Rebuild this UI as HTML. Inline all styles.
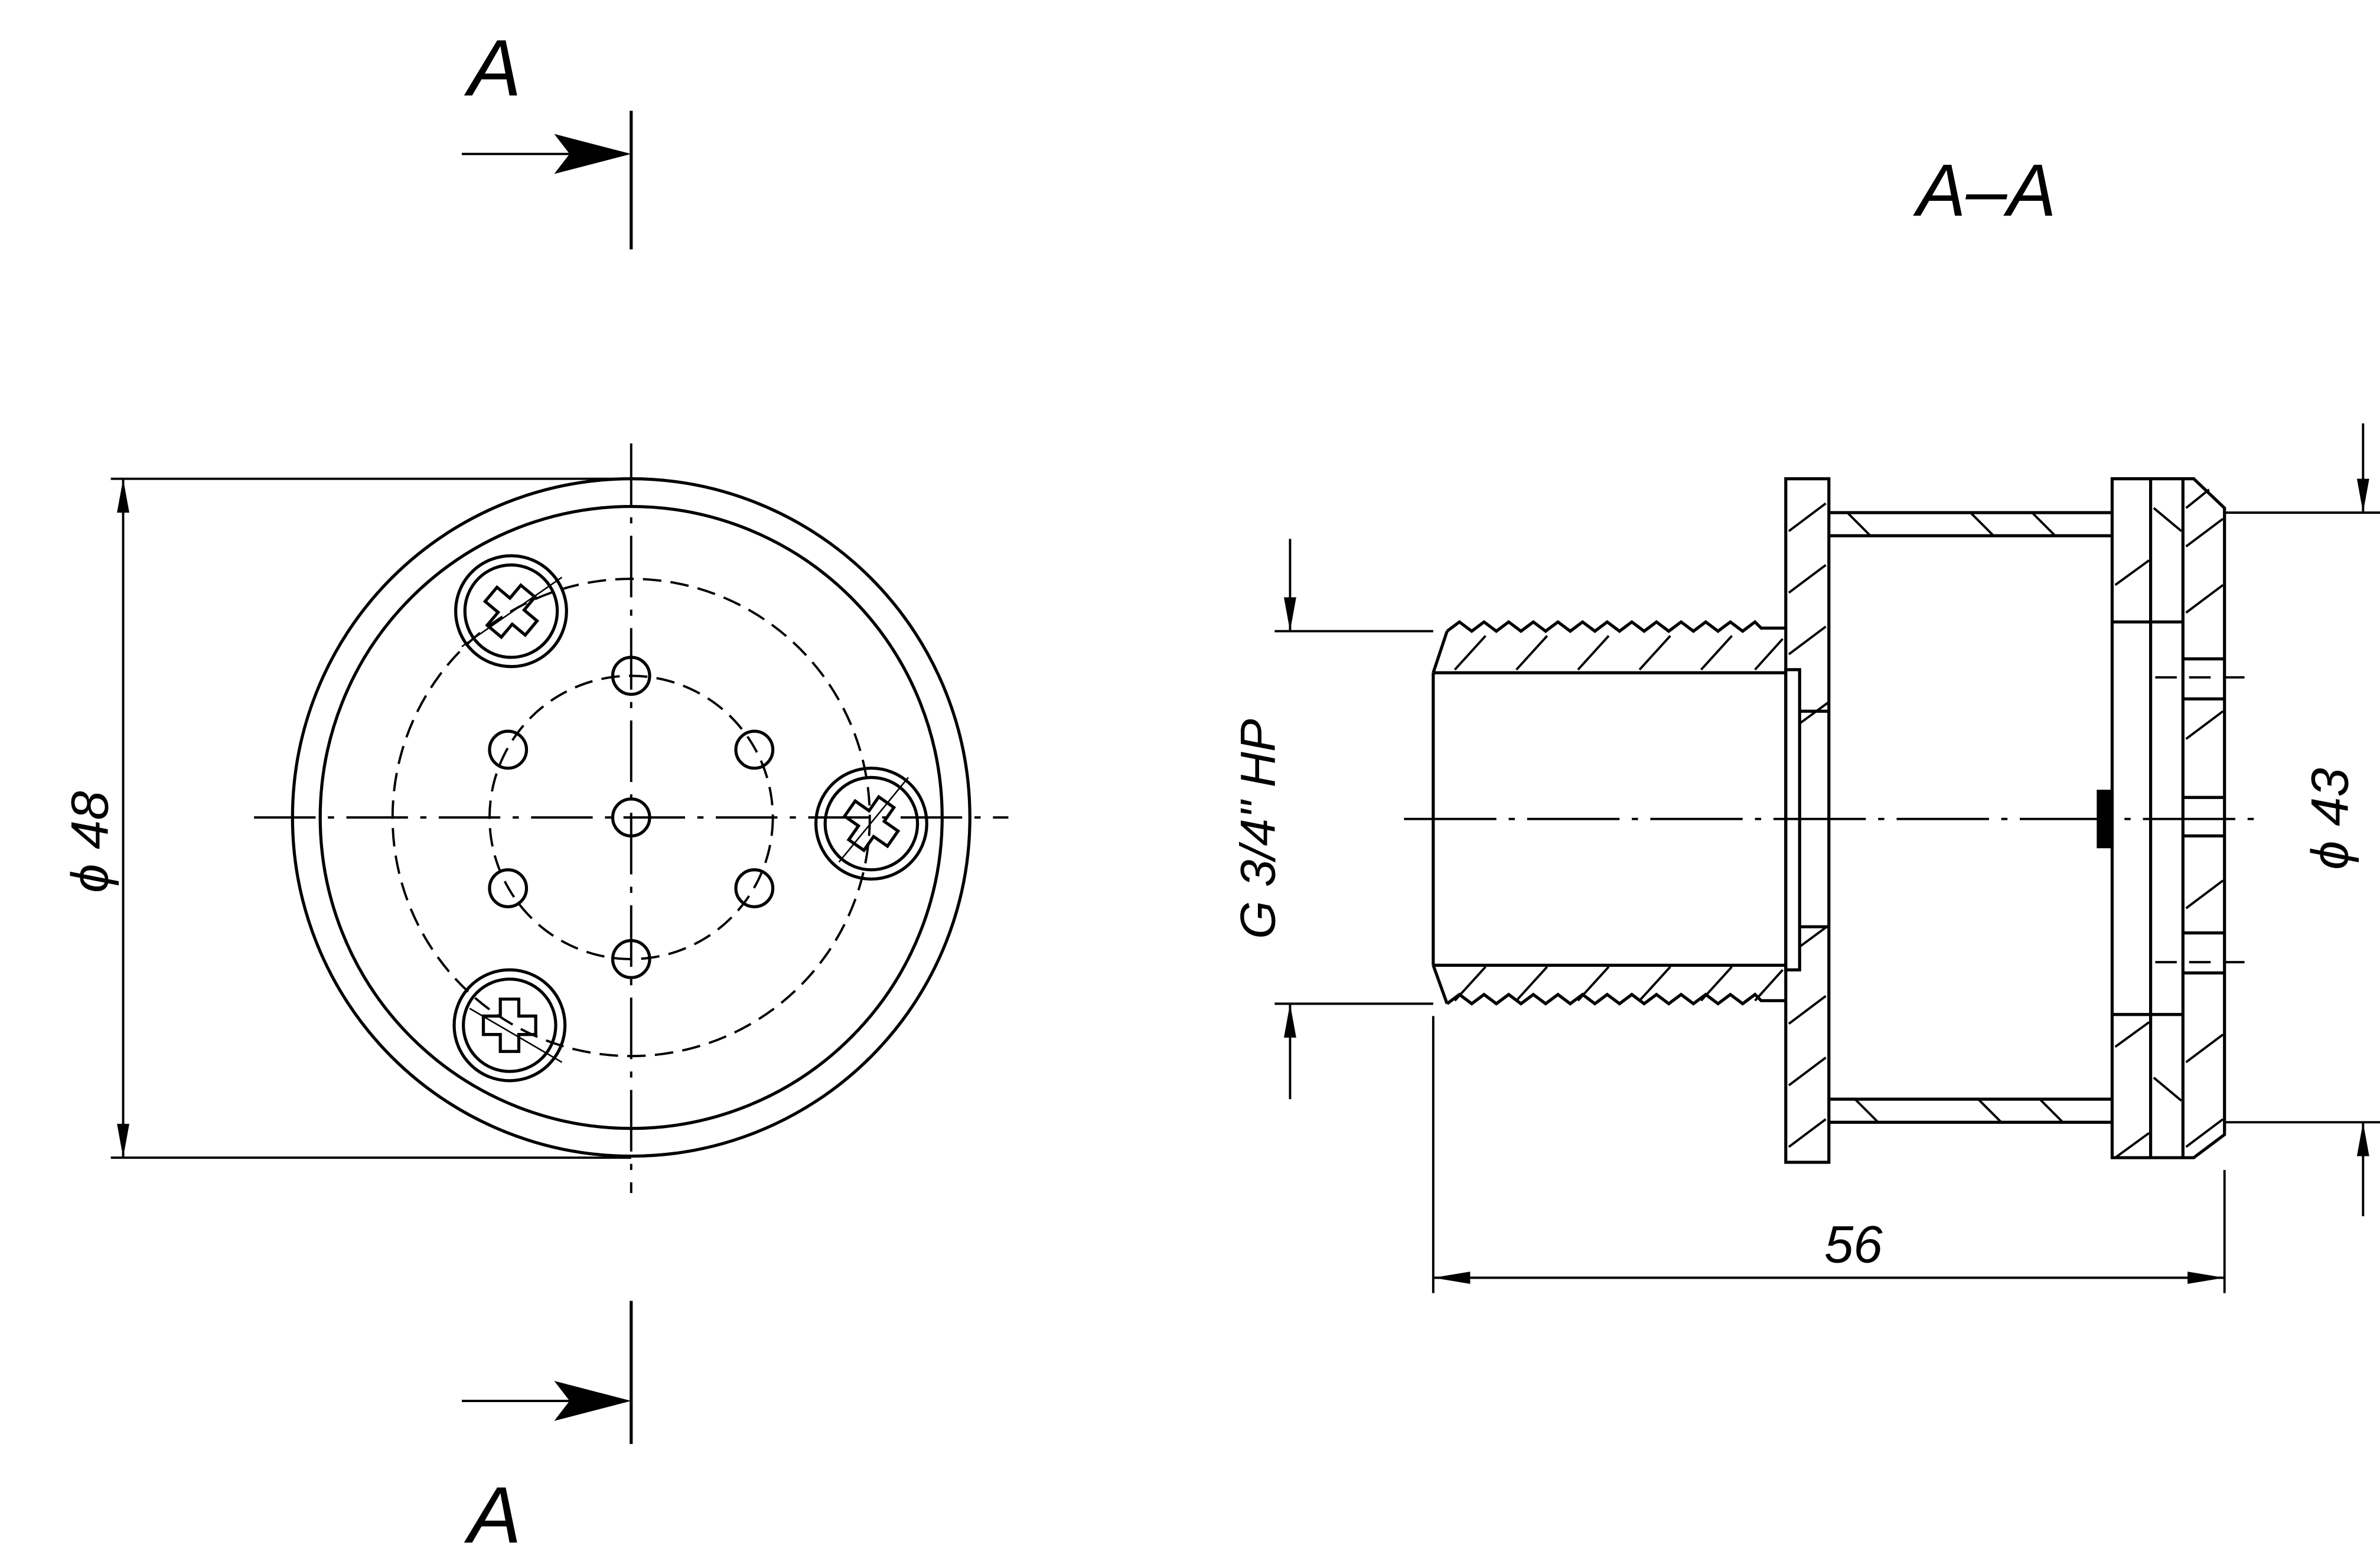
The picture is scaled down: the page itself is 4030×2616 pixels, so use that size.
<!DOCTYPE html>
<html><head><meta charset="utf-8"><style>
html,body{margin:0;padding:0;background:#fff}
svg{display:block}
text{font-family:"Liberation Sans",sans-serif;font-style:italic;fill:#000}
</style></head><body>
<svg width="4030" height="2616" viewBox="0 0 1546 1003.6" preserveAspectRatio="none" xmlns="http://www.w3.org/2000/svg">
<g fill="none" stroke="#000" stroke-width="1.5">
<!-- LEFT VIEW -->
<circle cx="410" cy="531" r="220" stroke-width="2"/>
<circle cx="410" cy="531" r="202" stroke-width="2"/>
<circle cx="410" cy="531" r="155" stroke-dasharray="12 6"/>
<circle cx="410" cy="531" r="92" stroke-dasharray="12 6"/>
<line x1="410" y1="288" x2="410" y2="775" stroke-dasharray="40 8 4 8"/>
<line x1="165" y1="531" x2="655" y2="531" stroke-dasharray="40 8 4 8"/>
<g stroke-width="2">
<circle cx="410" cy="439" r="12"/><circle cx="410" cy="623" r="12"/>
<circle cx="330" cy="487" r="12"/><circle cx="490" cy="487" r="12"/>
<circle cx="330" cy="577" r="12"/><circle cx="490" cy="577" r="12"/>
<circle cx="410" cy="531" r="12"/>
<circle cx="332" cy="397" r="36"/><circle cx="332" cy="397" r="30"/>
<circle cx="566" cy="535" r="36"/><circle cx="566" cy="535" r="30"/>
<circle cx="331" cy="666" r="36"/><circle cx="331" cy="666" r="30"/>
<path d="M326 380h12v11h11v12h-11v11h-12v-11h-11v-12h11z" transform="rotate(40 332 397)"/>
<path d="M560 518h12v11h11v12h-11v11h-12v-11h-11v-12h11z" transform="rotate(35 566 535)"/>
<path d="M325 649h12v11h11v12h-11v11h-12v-11h-11v-12h11z"/>
</g>
<path d="M300 420 L365 375 M545 560 L590 505 M305 655 L365 690" stroke-width="1"/>
<!-- dim 48 -->
<line x1="72" y1="311" x2="410" y2="311"/>
<line x1="72" y1="752" x2="410" y2="752"/>
<line x1="80" y1="311" x2="80" y2="752"/>
<!-- section marks -->
<line x1="410" y1="72" x2="410" y2="162" stroke-width="2"/>
<line x1="300" y1="100" x2="370" y2="100"/>
<line x1="410" y1="845" x2="410" y2="938" stroke-width="2"/>
<line x1="300" y1="910" x2="370" y2="910"/>

<!-- RIGHT VIEW -->
<g stroke-width="2">
<rect x="1160" y="311" width="28" height="444"/>
<path d="M931 437 V627 M931 437 H1160 M931 627 H1160"/>
<path d="M931 437 L940 410 M931 627 L940 652"/>
<path d="M940 410 l8 -6 l8 6 l8 -6 l8 6 l8 -6 l8 6 l8 -6 l8 6 l8 -6 l8 6 l8 -6 l8 6 l8 -6 l8 6 l8 -6 l8 6 l8 -6 l8 6 l8 -6 l8 6 l8 -6 l8 6 l8 -6 l8 6 l8 -6 l4 4 H1160"/>
<path d="M940 652 l8 -6 l8 6 l8 -6 l8 6 l8 -6 l8 6 l8 -6 l8 6 l8 -6 l8 6 l8 -6 l8 6 l8 -6 l8 6 l8 -6 l8 6 l8 -6 l8 6 l8 -6 l8 6 l8 -6 l8 6 l8 -6 l8 6 l8 -6 l4 4 H1160"/>
<rect x="1160" y="435" width="9" height="195"/>
<path d="M1169 462 H1188 M1169 602 H1188"/>
<path d="M1188 333 H1372 M1188 348 H1372 M1188 714 H1372 M1188 729 H1372"/>
<path d="M1372 311 V752 H1425 L1445 737 V330 L1425 311 Z"/>
<path d="M1397 311 V752 M1418 311 V752"/>
<path d="M1372 404 H1418 M1372 659 H1418"/>
<path d="M1418 428 H1445 M1418 454 H1445 M1418 518 H1445 M1418 543 H1445 M1418 606 H1445 M1418 632 H1445"/>
<rect x="1363" y="514" width="9" height="36" fill="#000"/>
</g>
<g stroke-width="1.5">
<path d="M945 435 l20 -22 M985 435 l20 -22 M1025 435 l20 -22 M1065 435 l20 -22 M1105 435 l20 -22 M1140 435 l18 -20"/>
<path d="M945 650 l20 -22 M985 650 l20 -22 M1025 650 l20 -22 M1065 650 l20 -22 M1105 650 l20 -22 M1140 650 l18 -20"/>
<path d="M1162 345 l24 -18 M1162 385 l24 -18 M1162 425 l24 -18 M1169 470 l19 -14 M1162 665 l24 -18 M1162 705 l24 -18 M1162 745 l24 -18 M1169 615 l19 -14"/>
<path d="M1200 333 l15 15 M1280 333 l15 15 M1320 333 l15 15 M1205 714 l15 15 M1285 714 l15 15 M1325 714 l15 15"/>
<path d="M1374 380 l22 -16 M1420 355 l24 -18 M1420 398 l24 -18 M1420 480 l24 -18 M1420 590 l24 -18 M1420 690 l24 -18 M1374 680 l22 -16 M1374 752 l22 -16 M1420 745 l24 -18 M1399 330 l18 15 M1399 700 l18 15 M1420 330 l15 -12"/>
<path d="M1400 440 H1465 M1400 625 H1465" stroke-dasharray="14 8"/>
</g>
<line x1="912" y1="532" x2="1465" y2="532" stroke-dasharray="60 8 4 8"/>
<!-- G dims -->
<line x1="828" y1="410" x2="931" y2="410"/>
<line x1="828" y1="652" x2="931" y2="652"/>
<line x1="838" y1="350" x2="838" y2="410"/>
<line x1="838" y1="652" x2="838" y2="714"/>
<!-- 43 dims -->
<line x1="1445" y1="333" x2="1546" y2="333"/>
<line x1="1445" y1="729" x2="1546" y2="729"/>
<line x1="1535" y1="275" x2="1535" y2="333"/>
<line x1="1535" y1="729" x2="1535" y2="790"/>
<!-- 56 -->
<line x1="931" y1="660" x2="931" y2="840"/>
<line x1="1445" y1="760" x2="1445" y2="840"/>
<line x1="931" y1="830" x2="1445" y2="830"/>
</g>
<g fill="#000">
<path d="M80 311 l-4 22 h8z"/><path d="M80 752 l-4 -22 h8z"/>
<path d="M410 100 l-50 -13 l10 13 l-10 13z"/>
<path d="M410 910 l-50 -13 l10 13 l-10 13z"/>
<path d="M838 410 l-4 -22 h8z"/><path d="M838 652 l-4 22 h8z"/>
<path d="M1535 333 l-4 -22 h8z"/><path d="M1535 729 l-4 22 h8z"/>
<path d="M931 830 l24 -4 v8z"/><path d="M1445 830 l-24 -4 v8z"/>
</g>
<text x="304" y="62" font-size="52">A</text>
<text x="304" y="1002" font-size="52">A</text>
<text x="1245" y="140" font-size="48">A–A</text>
<text x="1185" y="820" font-size="34">56</text>
<text transform="translate(70 580) rotate(-90)" font-size="34">ϕ 48</text>
<text transform="translate(1525 565) rotate(-90)" font-size="34">ϕ 43</text>
<text transform="translate(828 610) rotate(-90)" font-size="32">G 3/4" HP</text>
</svg>
</body></html>
